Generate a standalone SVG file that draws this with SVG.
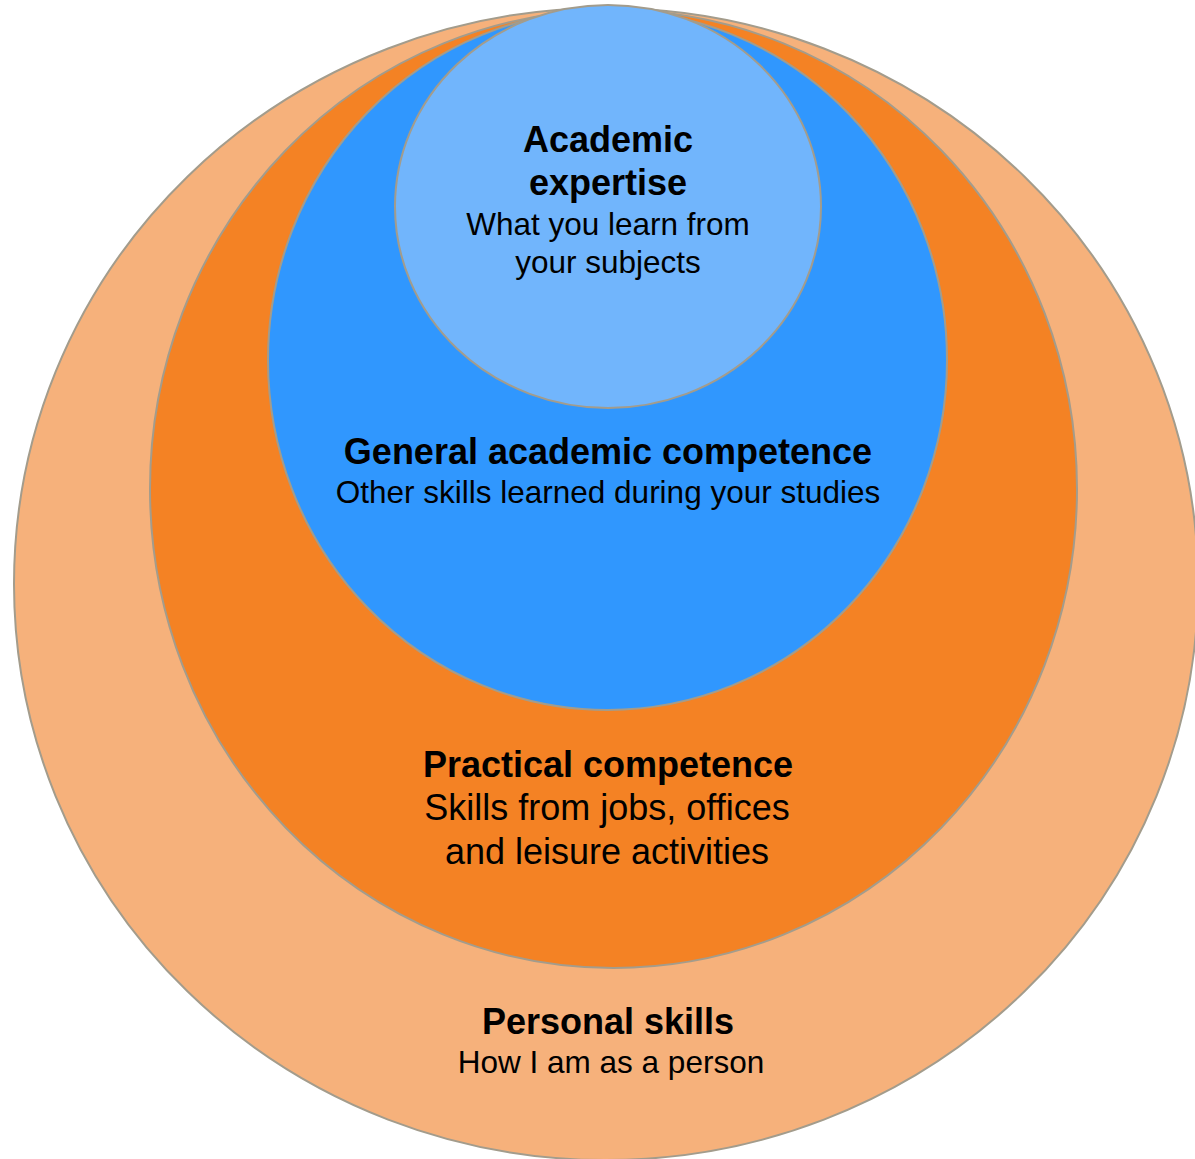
<svg xmlns="http://www.w3.org/2000/svg" width="1195" height="1159" viewBox="0 0 1195 1159">
<style>
.ring{stroke:#a39c8c;stroke-width:2}
.t{font-family:"Liberation Sans",Arial,sans-serif;text-anchor:middle;fill:#000}
.b{font-weight:bold;font-size:36px}
.r{font-size:31.5px}
.rl{font-size:36px}
</style>
<rect width="1195" height="1159" fill="#fff"/>
<g id="personal-skills">
<ellipse class="ring" cx="606" cy="584" rx="592" ry="576" fill="#F6B17B"/>
<text class="t b" x="608" y="1034">Personal skills</text>
<text class="t r" x="611" y="1073">How I am as a person</text>
</g>
<g id="practical-competence">
<ellipse class="ring" cx="613.5" cy="489" rx="463.5" ry="479" fill="#F48224"/>
<text class="t b" x="608" y="777">Practical competence</text>
<text class="t rl" x="607" y="820">Skills from jobs, offices</text>
<text class="t rl" x="607" y="864">and leisure activities</text>
</g>
<g id="general-academic-competence">
<ellipse class="ring" cx="607.5" cy="360" rx="339.5" ry="350" fill="#3097FE"/>
<text class="t b" x="608" y="464">General academic competence</text>
<text class="t r" x="608" y="503">Other skills learned during your studies</text>
</g>
<g id="academic-expertise">
<ellipse class="ring" cx="608" cy="206.5" rx="213" ry="201.5" fill="#71B5FC"/>
<text class="t b" x="608" y="152">Academic</text>
<text class="t b" x="608" y="195">expertise</text>
<text class="t r" x="608" y="235">What you learn from</text>
<text class="t r" x="608" y="273">your subjects</text>
</g>
<g id="connectors"/>
</svg>
